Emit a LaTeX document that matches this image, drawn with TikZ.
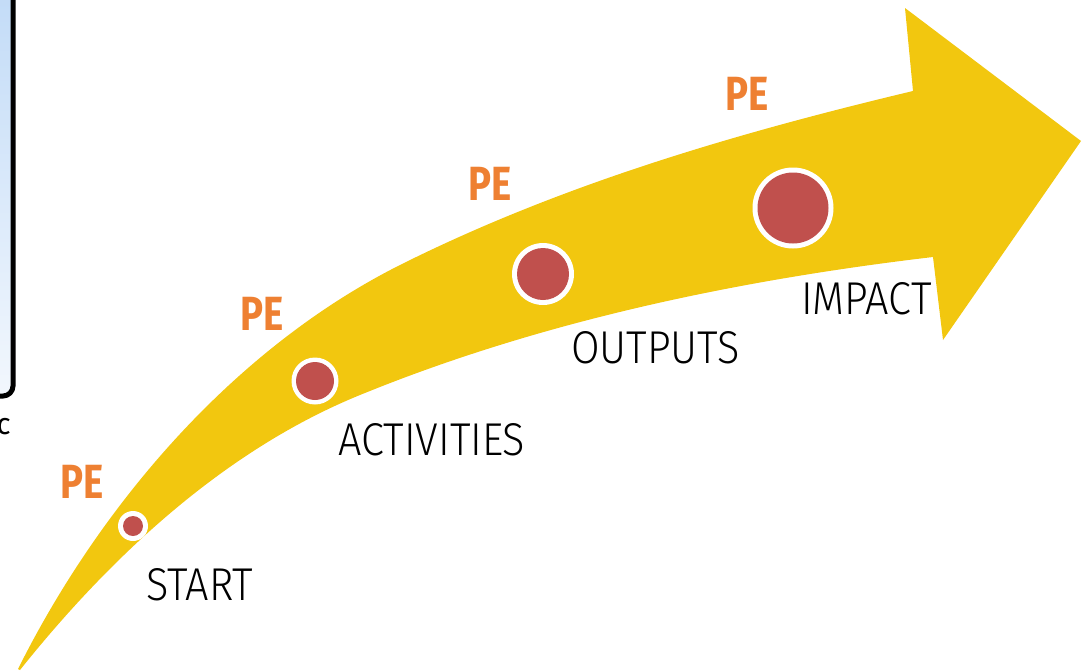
\documentclass[tikz,border=0pt]{standalone}
\usepackage{fontspec}
\IfFontExistsTF{Fira Sans Light}{\newfontfamily\lblfont[FakeStretch=0.9]{Fira Sans Light}}{\newfontfamily\lblfont[FakeStretch=0.9]{Fira Sans}}
\newfontfamily\pefont[FakeStretch=0.8]{Fira Sans}
\newfontfamily\smallfont{Fira Sans}
\definecolor{arrowyellow}{RGB}{242,199,15}
\definecolor{dotred}{RGB}{192,80,77}
\definecolor{peorange}{RGB}{238,128,50}
\definecolor{boxtop}{RGB}{192,218,247}
\definecolor{boxbot}{RGB}{242,247,253}
\tikzset{
  stagelabel/.style={inner sep=0pt, anchor=base west, text=black, font=\lblfont\fontsize{46}{50}\selectfont},
  pelabel/.style={inner sep=0pt, anchor=base west, text=peorange, font=\pefont\bfseries\fontsize{48}{52}\selectfont},
  dotouter/.style={circle, fill=white, inner sep=0pt},
  dotinner/.style={circle, fill=dotred, inner sep=0pt},
}
\begin{document}
\begin{tikzpicture}[x=1pt,y=-1pt]
\useasboundingbox (0,0) rectangle (1085,670);
\clip (0,0) rectangle (1085,670);
% partial box on left
\shade[top color=boxtop, bottom color=boxbot, draw=black, line width=5pt, rounded corners=10pt]
  (-200,-30) rectangle (13,396);
\node[inner sep=0pt, anchor=base east, font=\smallfont\fontsize{30}{32}\selectfont] (cc) at (11,434) {c};
% the big curved arrow
\fill[arrowyellow]
  (18,669) .. controls (101,503) and (235,348) .. (400,265)
  .. controls (562,184) and (737,133) .. (913,91)
  -- (905,8) -- (1081,141) -- (943,340) -- (933,257)
  .. controls (738,280) and (541,321) .. (360,395)
  .. controls (225,450) and (111,556) .. (20,670)
  -- cycle;
% dots
\node[dotouter, minimum size=30pt] (startout) at (133,526) {};
\node[dotinner, minimum size=20pt] (start) at (startout.center) {};
\node[dotouter, minimum size=47pt] (actout) at (315,381) {};
\node[dotinner, minimum size=38pt] (act) at (actout.center) {};
\node[dotouter, minimum size=62pt] (outout) at (543,274) {};
\node[dotinner, minimum size=52pt] (out) at (outout.center) {};
\node[dotouter, minimum size=81pt] (impout) at (793,208) {};
\node[dotinner, minimum size=71pt] (imp) at (impout.center) {};
% stage labels
\node[stagelabel] (tstart) at (146,600) {START};
\node[stagelabel] (tact) at (338,455) {ACTIVITIES};
\node[stagelabel] (tout) at (571,363) {OUTPUTS};
\node[stagelabel] (timp) at (801,314) {IMPACT};
% PE labels
\node[pelabel] (pe1) at (60,498) {PE};
\node[pelabel] (pe2) at (240,330) {PE};
\node[pelabel] (pe3) at (468,200) {PE};
\node[pelabel] (pe4) at (725,110) {PE};
\end{tikzpicture}
\end{document}
